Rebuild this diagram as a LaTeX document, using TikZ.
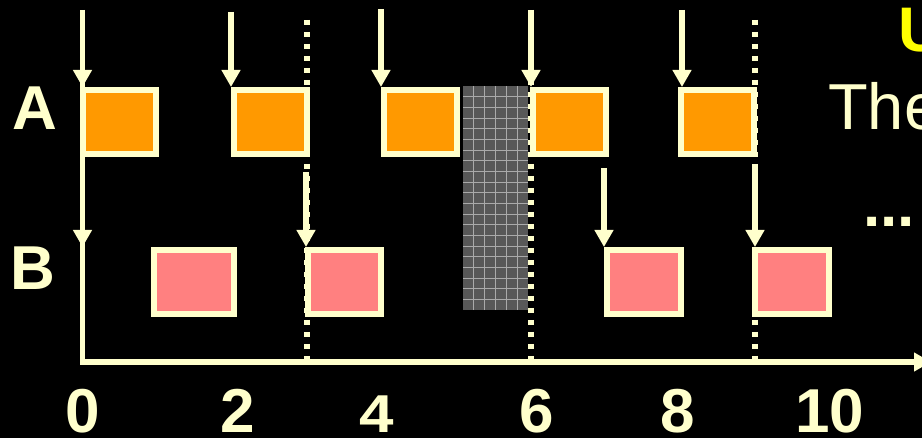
\documentclass[tikz,border=0pt]{standalone}
\usepackage{fontspec}
\usepackage{graphicx}
\setmainfont{Liberation Sans}
\usetikzlibrary{arrows.meta}
\definecolor{cream}{HTML}{FFFFCC}
\definecolor{boxorange}{HTML}{FF9900}
\definecolor{boxpink}{HTML}{FF8080}
\definecolor{blockgray}{HTML}{585858}
\definecolor{blockline}{HTML}{AAAAAA}
\definecolor{headyellow}{HTML}{FFFF00}
\begin{document}
\begin{tikzpicture}[x=1pt,y=-1pt,
  jobbox/.style={draw=cream, line width=6pt, minimum height=64pt, inner sep=0pt, outer sep=3pt},
  abox/.style={jobbox, fill=boxorange, minimum width=73pt},
  bbox/.style={jobbox, fill=boxpink},
  release/.style={draw=cream, line width=5.5pt, -{Triangle[width=18pt,length=17pt]}},
  deadline/.style={draw=cream, line width=5.5pt, dash pattern=on 5pt off 7pt},
  axisline/.style={draw=cream, line width=5.5pt},
  bigbold/.style={text=cream, font=\bfseries\fontsize{62}{62}\selectfont, inner sep=0pt, anchor=base},
]
\useasboundingbox (0,0) rectangle (922,438);
\fill[black] (0,0) rectangle (922,438);
\clip (0,0) rectangle (922,438);

% blocked interval between t=5 and t=6
\fill[blockgray] (463,86) rectangle (528,310);
\foreach \k in {1,...,5} \draw[blockline, line width=0.8pt] (463+\k*10.83,86) -- (463+\k*10.83,310);
\foreach \k in {1,...,20} \draw[blockline, line width=0.8pt] (463,86+\k*10.67) -- (528,86+\k*10.67);

% deadlines of task A (period 3)
\coordinate (d3t) at (307,20);  \coordinate (d3b) at (307,362);
\coordinate (d6t) at (531,20);  \coordinate (d6b) at (531,362);
\coordinate (d9t) at (755,20);  \coordinate (d9b) at (755,362);
\draw[deadline] (d3t) -- (d3b);
\draw[deadline] (d6t) -- (d6b);
\draw[deadline] (d9t) -- (d9b);

% time axis
\coordinate (top) at (82.5,10);
\coordinate (origin) at (82.5,362);
\coordinate (tend) at (931,362);
\draw[axisline, -{Triangle[width=18pt,length=17pt]}] (top) -- (origin) -- (tend);

% jobs of task A
\node[abox] (a0) at (119,122) {};
\node[abox] (a2) at (270,122) {};
\node[abox] (a4) at (420.5,122) {};
\node[abox] (a6) at (569.5,122) {};
\node[abox] (a8) at (717.5,122) {};

% jobs of task B
\node[bbox, minimum width=80pt] (b1) at (194,282) {};
\node[bbox, minimum width=73pt] (b3) at (344.5,282) {};
\node[bbox, minimum width=74pt] (b7) at (644,282) {};
\node[bbox, minimum width=73.5pt] (b9) at (792,282) {};

% releases of task A
\coordinate (ra0) at (82.5,60);
\coordinate (ra2) at (231,12);
\coordinate (ra4) at (381,9);
\coordinate (ra6) at (531,10);
\coordinate (ra8) at (682,10);
\draw[release] (ra0) -- (ra0 |- a0.north);
\draw[release] (ra2) -- (ra2 |- a2.north);
\draw[release] (ra4) -- (ra4 |- a4.north);
\draw[release] (ra6) -- (ra6 |- a6.north);
\draw[release] (ra8) -- (ra8 |- a8.north);

% releases of task B
\coordinate (rb0) at (82.5,200);
\coordinate (rb3) at (306,172);
\coordinate (rb7) at (604,168);
\coordinate (rb9) at (755,168);
\draw[release] (rb0) -- (rb0 |- b1.north);
\draw[release] (rb3) -- (rb3 |- b3.north);
\draw[release] (rb7) -- (rb7 |- b7.north);
\draw[release] (rb9) -- (rb9 |- b9.north);

% task names
\node[bigbold] (nameA) at (34.5,130) {A};
\node[bigbold] (nameB) at (33,290) {B};

% time ticks
\node[bigbold] (t0) at (83,433) {0};
\node[bigbold] (t2) at (238,433) {2};
\node[bigbold] (t4) at (376.5,433) {\scalebox{1}[0.86]{4}};
\node[bigbold] (t6) at (537,433) {6};
\node[bigbold] (t8) at (678,433) {8};
\node[bigbold] (t10) at (830,433) {10};

% side text
\node[text=headyellow, font=\bfseries\fontsize{63}{63}\selectfont, inner sep=0pt, anchor=base west] (head) at (898,52) {U};
\node[text=cream, font=\fontsize{65}{65}\selectfont, inner sep=0pt, anchor=base west] (the) at (828,130) {The};
\node[text=cream, font=\bfseries\fontsize{62}{62}\selectfont, inner sep=0pt, anchor=base west] (more) at (863,227) {...};
\end{tikzpicture}
\end{document}
